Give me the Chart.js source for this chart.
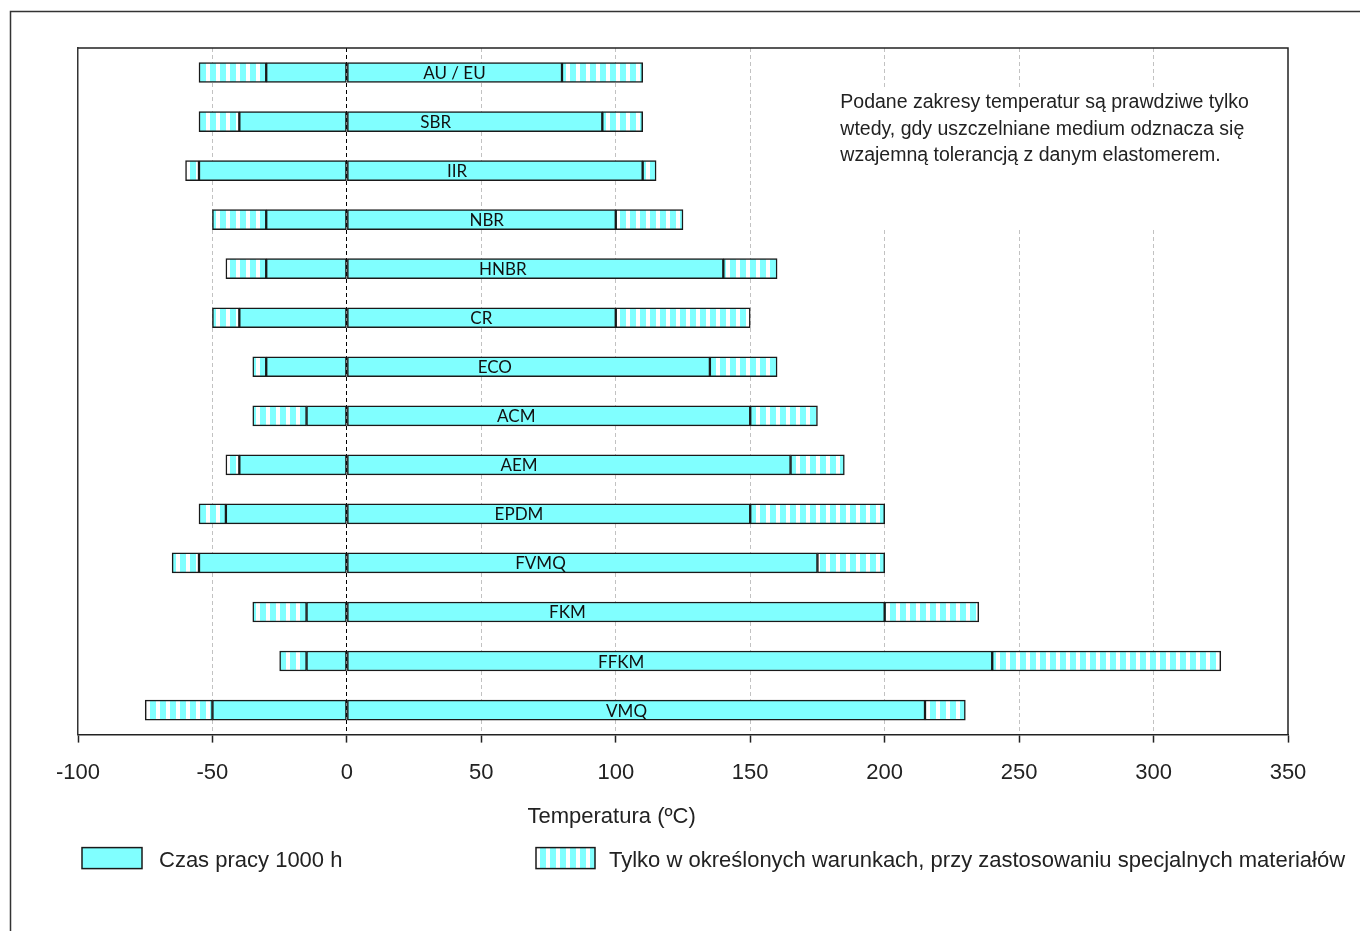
<!DOCTYPE html>
<html>
<head>
<meta charset="utf-8">
<script src="https://cdn.jsdelivr.net/npm/chart.js@4.4.1/dist/chart.umd.min.js"></script>
<style>
  html, body { margin: 0; padding: 0; background: #fff; }
  #wrap { position: relative; width: 1360px; height: 931px; }
</style>
</head>
<body>
<div id="wrap"><canvas id="tempChart"></canvas></div>
<script>
// elastomer names, top to bottom
const materials = ['AU / EU', 'SBR', 'IIR', 'NBR', 'HNBR', 'CR', 'ECO', 'ACM', 'AEM', 'EPDM', 'FVMQ', 'FKM', 'FFKM', 'VMQ'];
// temperature limits (°C)
const specialLow  = [-55, -55, -60, -50, -45, -50, -35, -35, -45, -55, -65, -35, -25, -75];
const normalLow   = [-30, -40, -55, -30, -30, -40, -30, -15, -40, -45, -55, -15, -15, -50];
const normalHigh  = [ 80,  95, 110, 100, 140, 100, 135, 150, 165, 150, 175, 200, 240, 215];
const specialHigh = [110, 110, 115, 125, 160, 150, 160, 175, 185, 200, 200, 235, 325, 230];
// where the name sits inside the bar (°C)
const labelTemps  = [40, 33, 41, 52, 58, 50, 55, 63, 64, 64, 72, 82, 102, 104];

const axisMin = -100, axisMax = 350, axisStep = 50;
const axisTitle = 'Temperatura (ºC)';
const noteLines = [
  'Podane zakresy temperatur są prawdziwe tylko',
  'wtedy, gdy uszczelniane medium odznacza się',
  'wzajemną tolerancją z danym elastomerem.'
];
const legendNormal = 'Czas pracy 1000 h';
const legendSpecial = 'Tylko w określonych warunkach, przy zastosowaniu specjalnych materiałów';

const CYAN = '#80ffff';
const EDGE = '#1a1a1a';

function makeStripes() {
  const c = document.createElement('canvas');
  c.width = 10; c.height = 4;
  const g = c.getContext('2d');
  g.fillStyle = CYAN; g.fillRect(0, 0, 6, 4);
  g.fillStyle = '#ffffff'; g.fillRect(6, 0, 4, 4);
  return g.createPattern(c, 'repeat');
}
const stripes = makeStripes();

const barBase = {
  borderColor: EDGE,
  borderWidth: 1.5,
  borderSkipped: false,
  barThickness: 20,
  grouped: false
};

const datasets = [
  Object.assign({ label: legendSpecial, data: materials.map((m, i) => [specialLow[i], normalLow[i]]), backgroundColor: stripes }, barBase),
  Object.assign({ label: legendNormal, data: materials.map((m, i) => [normalLow[i], 0]), backgroundColor: CYAN }, barBase),
  Object.assign({ label: legendNormal, data: materials.map((m, i) => [0, normalHigh[i]]), backgroundColor: CYAN }, barBase),
  Object.assign({ label: legendSpecial, data: materials.map((m, i) => [normalHigh[i], specialHigh[i]]), backgroundColor: stripes }, barBase)
];

const decor = {
  id: 'decor',
  beforeDraw(chart) {
    const ctx = chart.ctx;
    ctx.save();
    ctx.fillStyle = '#fff';
    ctx.fillRect(0, 0, chart.width, chart.height);
    // outer frame (left + top only)
    ctx.strokeStyle = '#333';
    ctx.lineWidth = 1.5;
    ctx.beginPath();
    ctx.moveTo(10.5, chart.height);
    ctx.lineTo(10.5, 11.5);
    ctx.lineTo(chart.width, 11.5);
    ctx.stroke();
    ctx.restore();
  },
  beforeDatasetsDraw(chart) {
    const { ctx, scales: { x, y } } = chart;
    // note box hides the grid behind it
    const left = x.getPixelForValue(180), right = x.getPixelForValue(341);
    const top = y.getPixelForValue(0.35), bottom = y.getPixelForValue(3.15);
    ctx.save();
    ctx.fillStyle = '#fff';
    ctx.fillRect(left, top, right - left, bottom - top);
    ctx.fillStyle = '#222';
    ctx.font = '19.5px "Liberation Sans", Arial, sans-serif';
    ctx.textAlign = 'left';
    ctx.textBaseline = 'middle';
    const tx = x.getPixelForValue(183.5);
    noteLines.forEach((t, i) => ctx.fillText(t, tx, top + 13 + i * 26.5));
    ctx.restore();
  },
  afterDatasetsDraw(chart) {
    const { ctx, chartArea: a, scales: { x, y } } = chart;
    ctx.save();
    // names in the bars
    ctx.fillStyle = '#111';
    ctx.font = '17px Lato, "DejaVu Sans", sans-serif';
    ctx.textAlign = 'center';
    ctx.textBaseline = 'middle';
    materials.forEach((m, i) => {
      ctx.fillText(m, x.getPixelForValue(labelTemps[i]), y.getPixelForValue(i) + 1);
    });
    // top and right edges of the plot box
    ctx.strokeStyle = '#222';
    ctx.lineWidth = 1.5;
    ctx.beginPath();
    ctx.moveTo(a.left, a.top);
    ctx.lineTo(a.right, a.top);
    ctx.lineTo(a.right, a.bottom);
    ctx.stroke();
    ctx.restore();
  },
  afterDraw(chart) {
    const { ctx, chartArea: a } = chart;
    ctx.save();
    ctx.fillStyle = '#222';
    ctx.font = '22px "Liberation Sans", Arial, sans-serif';
    ctx.textBaseline = 'middle';
    ctx.textAlign = 'center';
    ctx.fillText(axisTitle, a.left + (a.right - a.left) * 0.441, a.bottom + 82);
    // legend
    ctx.textAlign = 'left';
    const ly = a.bottom + 113;
    ctx.lineWidth = 1.5;
    ctx.strokeStyle = EDGE;
    ctx.fillStyle = CYAN;
    ctx.fillRect(82, ly, 60, 21);
    ctx.strokeRect(82, ly, 60, 21);
    ctx.fillStyle = stripes;
    ctx.fillRect(536, ly, 59, 21);
    ctx.strokeRect(536, ly, 59, 21);
    ctx.fillStyle = '#222';
    ctx.fillText(legendNormal, 159, ly + 13);
    ctx.fillText(legendSpecial, 609, ly + 13);
    ctx.restore();
  }
};

new Chart(document.getElementById('tempChart'), {
  type: 'bar',
  data: { labels: materials, datasets: datasets },
  options: {
    indexAxis: 'y',
    responsive: true,
    maintainAspectRatio: false,
    animation: false,
    devicePixelRatio: 1,
    layout: { padding: { left: 70, right: 72, top: 48, bottom: 128 } },
    plugins: { legend: { display: false }, tooltip: { enabled: false } },
    scales: {
      x: {
        type: 'linear',
        min: axisMin,
        max: axisMax,
        ticks: {
          stepSize: axisStep,
          color: '#222',
          padding: 17,
          font: { family: '"Liberation Sans", Arial, sans-serif', size: 22 }
        },
        grid: {
          color: (c) => {
            const v = c.tick ? c.tick.value : null;
            if (v === 0) return '#000';
            if (v === axisMin || v === axisMax) return 'rgba(0,0,0,0)';
            return '#c2c2c2';
          },
          lineWidth: 1,
          tickColor: '#222',
          tickLength: 8,
          tickWidth: 1.5
        },
        border: { color: '#222', width: 1.5, dash: [4, 3] }
      },
      y: {
        type: 'category',
        ticks: { display: false },
        grid: { display: false },
        border: { color: '#333', width: 1.5 }
      }
    }
  },
  plugins: [decor]
});
</script>
</body>
</html>
